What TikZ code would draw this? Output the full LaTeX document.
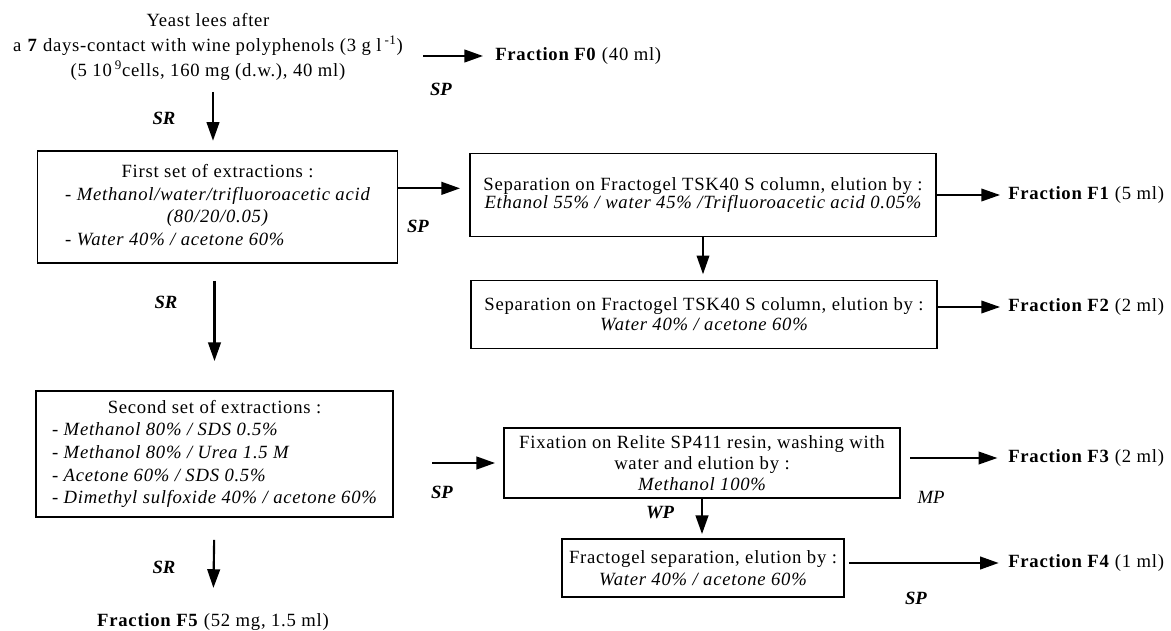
\documentclass[tikz,border=0pt]{standalone}
\usepackage{fontspec}
\setmainfont{Liberation Serif}[LetterSpace=4]
\newfontfamily\labelfont{Liberation Serif}
\usetikzlibrary{arrows.meta}
\begin{document}
\begin{tikzpicture}[x=0.75pt,y=-0.75pt,
  every node/.style={inner sep=0pt, font=\fontsize{14}{16}\selectfont},
  box/.style={draw, line width=1.4pt, align=center},
  lbl/.style={font=\labelfont\fontsize{14}{16}\selectfont\bfseries\itshape},
  arr/.style={line width=1.6pt, -{Triangle[length=14pt,width=9.5pt]}},
  thinarr/.style={line width=1.1pt, -{Triangle[length=14pt,width=9.5pt]}}]
\path[use as bounding box] (0,0) rectangle (1171,631);

% source
\node[align=center, font=\fontsize{14}{18.5}\selectfont] (src) at (208,47)
  {Yeast lees after\\a \textbf{7} days-contact with wine polyphenols (3 g l\,\textsuperscript{-1})\\(5 10\,\textsuperscript{9}cells, 160 mg (d.w.), 40 ml)};
\node[anchor=west] (f0) at (495,56) {\textbf{Fraction F0} (40 ml)};
\coordinate (a1s) at (423,56);
\draw[arr, shorten >=9pt] (a1s) -- (f0.west);
\node[lbl] (sp0) at (441,89) {SP};

% first extraction
\node[box, minimum width=270pt, minimum height=84pt, font=\fontsize{14}{17}\selectfont] (b1) at (217.5,207)
  {\begin{tabular}{@{}l@{}}\multicolumn{1}{c}{First set of extractions :}\\\itshape - Methanol/water/trifluoroacetic acid\\\multicolumn{1}{c}{\itshape (80/20/0.05)}\\\itshape - Water 40\% / acetone 60\%\end{tabular}};
\coordinate (a0s) at (213,92);
\draw[arr, shorten >=7pt] (a0s) -- (a0s |- b1.north);
\node[lbl] (sr1) at (164,118) {SR};

% separation 1
\node[box, minimum width=350pt, minimum height=62.25pt, font=\fontsize{14}{13.5}\selectfont] (b3) at (703,195)
  {Separation on Fractogel TSK40 S column, elution by :\\\itshape Ethanol 55\% / water 45\% /Trifluoroacetic acid 0.05\%};
\draw[arr, shorten >=6.5pt] ([yshift=5pt]b1.east |- b3.west) -- ([yshift=5pt]b3.west);
\node[lbl] (sp1) at (418,226) {SP};
\node[anchor=west] (f1) at (1008,195) {\textbf{Fraction F1} (5 ml)};
\draw[thinarr, shorten >=6pt] (b3.east |- f1.west) -- (f1.west);

% separation 2
\node[box, minimum width=349pt, minimum height=51pt, font=\fontsize{14}{15}\selectfont] (b4) at (704,314.5)
  {Separation on Fractogel TSK40 S column, elution by :\\\itshape Water 40\% / acetone 60\%};
\draw[thinarr, shorten >=4pt] (b3.south) -- (b3.south |- b4.north);
\node[anchor=west] (f2) at (1008,307) {\textbf{Fraction F2} (2 ml)};
\draw[thinarr, shorten >=6pt] (b4.east |- f2.west) -- (f2.west);

% second extraction
\node[box, minimum width=267.75pt, minimum height=94.5pt, font=\fontsize{14}{17}\selectfont] (b2) at (214.5,454)
  {\begin{tabular}{@{}l@{}}\multicolumn{1}{c}{Second set of extractions :}\\\itshape - Methanol 80\% / SDS 0.5\%\\\itshape - Methanol 80\% / Urea 1.5 M\\\itshape - Acetone 60\% / SDS 0.5\%\\\itshape - Dimethyl sulfoxide 40\% / acetone 60\%\end{tabular}};
\draw[arr, shorten <=12.75pt, shorten >=21.75pt] (b1.south -| b2.north) -- (b2.north);
\node[lbl] (sr2) at (166,302) {SR};

% resin
\node[box, minimum width=297pt, minimum height=52.5pt, font=\fontsize{14}{16}\selectfont] (b5) at (702,463)
  {Fixation on Relite SP411 resin, washing with\\water and elution by :\\\itshape Methanol 100\%};
\coordinate (a5s) at (432,463);
\draw[arr, shorten >=6pt] (a5s) -- (b5.west);
\node[lbl] (sp2) at (442,492) {SP};
\node[anchor=west] (f3) at (1008,458) {\textbf{Fraction F3} (2 ml)};
\coordinate (a3s) at (910,458);
\draw[thinarr, shorten >=8pt] (a3s) -- (f3.west);
\node[font=\labelfont\fontsize{14}{16}\selectfont\itshape] (mp) at (931,497) {MP};

% fractogel
\node[box, minimum width=211.5pt, minimum height=43.5pt, font=\fontsize{14}{17}\selectfont] (b6) at (703,568)
  {Fractogel separation, elution by :\\\itshape Water 40\% / acetone 60\%};
\draw[arr, shorten >=3pt] (b5.south) -- (b5.south |- b6.north);
\node[lbl] (wp) at (660,513) {WP};
\node[anchor=west] (f4) at (1008,563) {\textbf{Fraction F4} (1 ml)};
\draw[arr, shorten <=3pt, shorten >=7pt] (b6.east |- f4.west) -- (f4.west);
\node[lbl] (sp3) at (916,598) {SP};

% F5
\node (f5) at (213,622) {\textbf{Fraction F5} (52 mg, 1.5 ml)};
\draw[arr, shorten <=16.5pt, shorten >=19pt] (b2.south) -- (f5.north);
\node[lbl] (sr3) at (164,567) {SR};
\end{tikzpicture}
\end{document}
